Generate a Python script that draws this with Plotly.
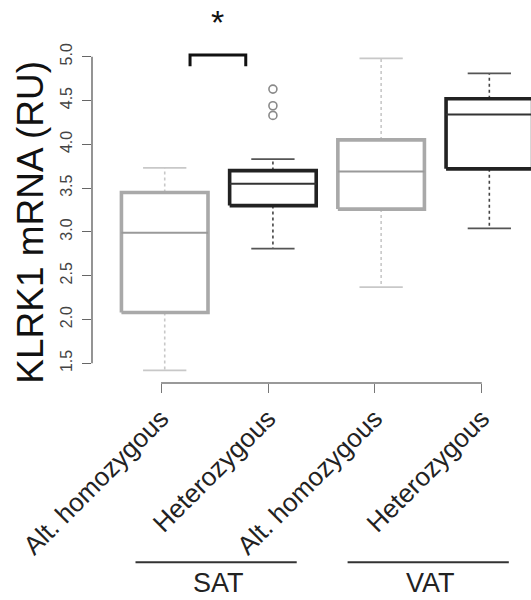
import plotly.graph_objects as go

# ---- data ----
genotypes = ["Alt. homozygous", "Heterozygous", "Alt. homozygous", "Heterozygous"]
tissues = ["SAT", "SAT", "VAT", "VAT"]
lower_whisker = [1.42, 2.81, 2.37, 3.04]
q1 = [2.08, 3.30, 3.26, 3.72]
median = [2.99, 3.55, 3.69, 4.34]
q3 = [3.45, 3.70, 4.05, 4.52]
upper_whisker = [3.73, 3.83, 4.98, 4.81]
outlier_group = [2, 2, 2]
outlier_values = [4.33, 4.44, 4.63]
y_ticks = [1.5, 2.0, 2.5, 3.0, 3.5, 4.0, 4.5, 5.0]
group_labels = ["SAT", "VAT"]

# ---- styles ----
FONT = "Liberation Sans, Arial, Helvetica, sans-serif"
GRAY_BOX = "#a9a9a9"
GRAY_WHISK = "#c8c8c8"
DARK_BOX = "#222222"
DARK_WHISK = "#444444"
box_colors = [GRAY_BOX, DARK_BOX, GRAY_BOX, DARK_BOX]
whisk_colors = [GRAY_WHISK, DARK_WHISK, GRAY_WHISK, DARK_WHISK]
cap_colors = [GRAY_WHISK, "#555555", GRAY_WHISK, "#555555"]
med_colors = ["#9a9a9a", "#333333", "#9a9a9a", "#333333"]
half_w = 0.4
cap_w = 0.2

fig = go.Figure()
positions = list(range(1, len(genotypes) + 1))

for i, pos in enumerate(positions):
    # whiskers (dashed)
    for a, b in [(q3[i], upper_whisker[i]), (q1[i], lower_whisker[i])]:
        fig.add_trace(go.Scatter(x=[pos, pos], y=[a, b], mode="lines",
                                 line=dict(color=whisk_colors[i], width=1.6, dash="3px,3px"),
                                 hoverinfo="skip", showlegend=False))
    # caps
    for v in [upper_whisker[i], lower_whisker[i]]:
        fig.add_trace(go.Scatter(x=[pos - cap_w, pos + cap_w], y=[v, v], mode="lines",
                                 line=dict(color=cap_colors[i], width=1.8),
                                 hoverinfo="skip", showlegend=False))
    # box
    fig.add_trace(go.Scatter(
        x=[pos - half_w, pos + half_w, pos + half_w, pos - half_w, pos - half_w],
        y=[q1[i], q1[i], q3[i], q3[i], q1[i]],
        mode="lines", fill="toself", fillcolor="white",
        line=dict(color=box_colors[i], width=3.6),
        hoverinfo="skip", showlegend=False))
    # median
    fig.add_trace(go.Scatter(x=[pos - half_w, pos + half_w], y=[median[i], median[i]],
                             mode="lines", line=dict(color=med_colors[i], width=2),
                             hoverinfo="skip", showlegend=False))

# outliers
fig.add_trace(go.Scatter(x=outlier_group, y=outlier_values, mode="markers",
                         marker=dict(symbol="circle-open", size=8, color="#8a8a8a",
                                     line=dict(width=1.6, color="#8a8a8a")),
                         hoverinfo="skip", showlegend=False))

# significance bracket
fig.add_trace(go.Scatter(x=[1.234, 1.234, 1.749, 1.749], y=[4.89, 5.02, 5.02, 4.89],
                         mode="lines", line=dict(color="#111111", width=3),
                         hoverinfo="skip", showlegend=False))
fig.add_annotation(x=1.49, y=5.40, xref="x", yref="y", text="*", showarrow=False,
                   font=dict(family=FONT, size=34, color="#111111"))

# tick positions on the bottom axis (slightly offset, as in the original)
x_tick_pos = [0.966, 1.955, 2.941, 3.930]

# axis lines (R style, spanning only the ticks)
fig.add_shape(type="line", xref="paper", yref="y", x0=0, x1=0, y0=y_ticks[0], y1=y_ticks[-1],
              line=dict(color="#666666", width=1.4))
fig.add_shape(type="line", xref="x", yref="paper", x0=x_tick_pos[0], x1=x_tick_pos[-1], y0=0, y1=0,
              line=dict(color="#777777", width=1.4))

# group lines and labels
group_spans = [(0.73, 2.22), (2.69, 4.18)]
for (a, b), lab in zip(group_spans, group_labels):
    fig.add_shape(type="line", xref="x", yref="paper", x0=a, x1=b, y0=-0.468, y1=-0.468,
                  line=dict(color="#333333", width=1.8))
    fig.add_annotation(x=(a + b) / 2 + 0.02, y=-0.468, xref="x", yref="paper", text=lab,
                       showarrow=False, xanchor="center", yanchor="top", yshift=-4,
                       font=dict(family=FONT, size=27, color="#222222"))

# y title
fig.add_annotation(x=-0.139, y=0.421, xref="paper", yref="paper", text="KLRK1 mRNA (RU)",
                   textangle=-90, showarrow=False, xanchor="center", yanchor="middle",
                   font=dict(family=FONT, size=37, color="#111111"))

fig.update_layout(
    width=531, height=600,
    margin=dict(l=92, r=0, t=0, b=217, autoexpand=False),
    plot_bgcolor="white", paper_bgcolor="white",
    showlegend=False,
    xaxis=dict(range=[0.328, 4.385], showgrid=False, zeroline=False, showline=False,
               tickmode="array", tickvals=x_tick_pos, ticktext=genotypes,
               ticks="outside", ticklen=9, tickwidth=1.4, tickcolor="#777777",
               tickangle=-45, tickfont=dict(family=FONT, size=26, color="#222222"),
               ticklabelstandoff=0, automargin=False),
    yaxis=dict(range=[1.2751, 5.6473], showgrid=False, zeroline=False, showline=False,
               tickmode="array", tickvals=y_ticks, ticktext=[f"{v:.1f}" for v in y_ticks],
               ticks="outside", ticklen=9, tickwidth=1.4, tickcolor="#666666",
               tickangle=-90, tickfont=dict(family=FONT, size=16, color="#444444"),
               ticklabelstandoff=4, automargin=False),
)

fig.write_html("out.html")
